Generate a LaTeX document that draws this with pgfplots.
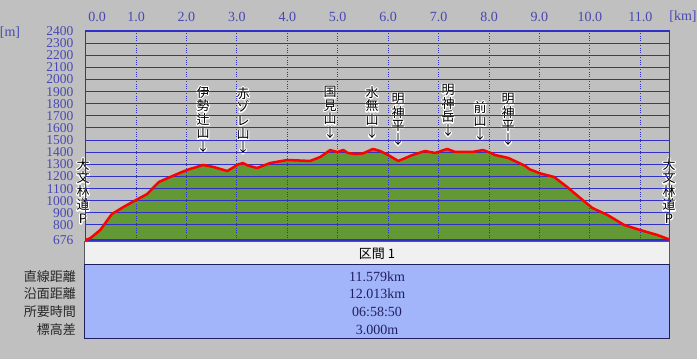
\documentclass[border=0pt]{standalone}
\usepackage{pgfplots}
\usepackage{pgfplotstable}
\pgfplotsset{compat=1.18}
\usepackage{fontspec}
\setmainfont{Liberation Serif}
\newfontfamily\cjk{Noto Sans CJK JP}
\definecolor{bg}{RGB}{192,192,192}
\definecolor{plotbg}{RGB}{221,221,221}
\definecolor{gridblue}{RGB}{48,48,200}
\definecolor{ticklab}{RGB}{72,72,180}
\definecolor{terrain}{RGB}{99,153,52}
\definecolor{tblblue}{RGB}{163,181,250}
\definecolor{navy}{RGB}{32,32,96}
\definecolor{hdr}{RGB}{240,240,240}

\pgfplotstableread{
km m
0 676
0.09 690
0.29 758
0.52 890
0.75 948
1.0 1006
1.22 1055
1.45 1154
1.68 1196
1.91 1237
2.07 1262
2.14 1270
2.33 1295
2.54 1278
2.81 1245
3.03 1300
3.12 1311
3.22 1290
3.40 1270
3.66 1311
4.00 1336
4.45 1328
4.65 1360
4.85 1418
4.99 1402
5.11 1418
5.20 1394
5.35 1385
5.50 1390
5.70 1427
5.84 1410
6.00 1377
6.20 1328
6.34 1352
6.48 1377
6.73 1410
6.93 1394
7.17 1427
7.33 1402
7.67 1402
7.88 1418
8.03 1395
8.12 1377
8.38 1353
8.50 1330
8.72 1287
8.80 1260
9.02 1225
9.29 1196
9.55 1113
9.81 1022
10.05 940
10.35 882
10.68 800
11.0 758
11.34 717
11.579 680
}\profile

\tikzset{lbl/.style={font=\cjk\fontsize{13}{13.6}\selectfont, align=center, inner sep=0pt, anchor=north}}
\newcommand{\vlab}[3]{%
  \node[lbl, text=white] at (#1,{359-#2}) {\special{pdf:literal direct 2 Tr 2.2 w 1 j 1 G}#3};%
  \node[lbl, text=black] at (#1,{359-#2}) {#3};%
}

\begin{document}
\begin{tikzpicture}
\fill[bg] (0,0) rectangle (697pt,359pt);
\begin{axis}[
  at={(85.6pt,119pt)}, anchor=south west,
  scale only axis, width=583.9pt, height=209pt,
  xmin=0, xmax=11.579, ymin=676, ymax=2400,
  set layers=axis on top,
  axis background/.style={fill=plotbg},
  axis line style={gridblue, line width=1.5pt},
  xtick={0,1,2,3,4,5,6,7,8,9,10,11},
  xticklabels={\hspace*{22.8pt}0.0,1.0,2.0,3.0,4.0,5.0,6.0,7.0,8.0,9.0,10.0,11.0},
  ytick={676,800,900,1000,1100,1200,1300,1400,1500,1600,1700,1800,1900,2000,2100,2200,2300,2400},
  yticklabels={676,800,900,1000,1100,1200,1300,1400,1500,1600,1700,1800,1900,2000,2100,2200,2300,2400},
  major tick length=0pt,
  xmajorgrids, ymajorgrids,
  x grid style={gridblue, dotted, line width=0.8pt},
  y grid style={gridblue, line width=1pt},
  xticklabel pos=upper,
  /pgf/number format/assume math mode=true,
  ticklabel style={font=\fontsize{14}{14}\selectfont, text=ticklab, inner sep=0pt},
  xticklabel style={anchor=base, yshift=9pt},
  yticklabel style={anchor=east, xshift=-12pt, font=\fontsize{13.5}{13.5}\selectfont},
]
\addplot[fill=terrain, draw=none] table[x=km,y=m]{\profile} \closedcycle;
\addplot[red, line width=2.5pt, line join=round, on layer=axis foreground] table[x=km,y=m]{\profile};
\end{axis}
\begin{scope}[x=1pt,y=1pt]
  \node[font=\fontsize{14}{14}\selectfont, text=ticklab] at (10,326) {[m]};
  \node[font=\fontsize{14}{14}\selectfont, text=ticklab] at (683,342) {[km]};
  \vlab{203}{86}{伊\\勢\\辻\\山\\↓}
  \vlab{243}{87}{赤\\ゾ\\レ\\山\\↓}
  \vlab{330}{86}{国\\見\\山\\↓}
  \vlab{372}{86}{水\\無\\山\\↓}
  \vlab{398}{93}{明\\神\\平\\↓}
  \vlab{448}{84}{明\\神\\岳\\↓}
  \vlab{480}{101}{前\\山\\↓}
  \vlab{508}{93}{明\\神\\平\\↓}
  \vlab{83}{158}{大\\文\\林\\道\\P}
  \vlab{669}{158}{大\\文\\林\\道\\P}
  % table
  \fill[hdr] (84.5,117) rectangle (669.5,94);
  \draw[gray!70!black, line width=1pt] (84.5,94) -- (84.5,117) -- (669.5,117) -- (669.5,94);
  \fill[tblblue] (84.5,94) rectangle (669.5,20);
  \draw[navy, line width=1pt] (84.5,94) rectangle (669.5,20);
  \node[font=\cjk\fontsize{13}{13}\selectfont] at (377,105) {区間 1};
  \foreach \yy/\v/\l in {82/11.579km/直線距離, 65/12.013km/沿面距離, 47/06:58:50/所要時間, 29/3.000m/標高差}{
    \node[font=\fontsize{14}{14}\selectfont, text=navy] at (377,\yy) {\v};
    \node[font=\cjk\fontsize{13}{13}\selectfont, text=black!85, anchor=east, inner sep=0pt] at (76,\yy) {\l};
  }
\end{scope}
\pgfresetboundingbox
\path[use as bounding box] (0,0) rectangle (697pt,359pt);
\end{tikzpicture}
\end{document}
